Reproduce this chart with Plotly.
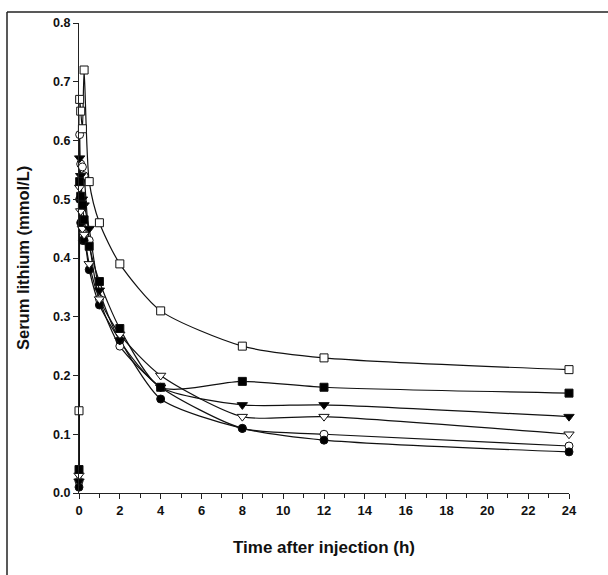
import plotly.graph_objects as go

time_h = [0, 0.033, 0.083, 0.167, 0.25, 0.5, 1, 2, 4, 8, 12, 24]

open_square = [0.14, 0.67, 0.65, 0.62, 0.72, 0.53, 0.46, 0.39, 0.31, 0.25, 0.23, 0.21]
filled_square = [0.04, 0.53, 0.505, 0.49, 0.465, 0.42, 0.36, 0.28, 0.18, 0.19, 0.18, 0.17]
filled_tri = [0.02, 0.57, 0.54, 0.50, 0.49, 0.45, 0.345, 0.26, 0.18, 0.15, 0.15, 0.13]
open_tri = [0.03, 0.52, 0.48, 0.45, 0.44, 0.39, 0.33, 0.27, 0.20, 0.13, 0.13, 0.10]
open_circle = [0.02, 0.61, 0.56, 0.555, 0.54, 0.43, 0.33, 0.25, 0.18, 0.11, 0.10, 0.08]
filled_circle = [0.01, 0.50, 0.46, 0.43, 0.43, 0.38, 0.32, 0.26, 0.16, 0.11, 0.09, 0.07]

x_ticks = list(range(0, 25, 2))
y_ticks = [0, 0.1, 0.2, 0.3, 0.4, 0.5, 0.6, 0.7, 0.8]

series = [
    ("open circle", open_circle, "circle", "white", 8),
    ("filled circle", filled_circle, "circle", "black", 8),
    ("open triangle", open_tri, "triangle-down", "white", 9),
    ("filled triangle", filled_tri, "triangle-down", "black", 9),
    ("filled square", filled_square, "square", "black", 8),
    ("open square", open_square, "square", "white", 8),
]

fig = go.Figure()
for name, vals, sym, fill, sz in series:
    fig.add_trace(go.Scatter(
        x=time_h, y=vals, name=name, mode="lines",
        line=dict(color="#111", width=1.2, shape="spline", smoothing=0.7),
        cliponaxis=False, showlegend=False, hoverinfo="skip"))
for name, vals, sym, fill, sz in series:
    fig.add_trace(go.Scatter(
        x=time_h, y=vals, name=name, mode="markers",
        marker=dict(symbol=sym, size=sz, color=fill, line=dict(color="#111", width=1)),
        cliponaxis=False, showlegend=False))

W, H = 608, 575
L, T = 79, 23
PW, PH = 490, 470

frame_left = (7 - L) / PW
frame_top = 1 + (T - 12) / PH

font_family = "Liberation Sans, Arial, sans-serif"
fig.update_layout(
    width=W, height=H,
    margin=dict(l=L, r=W - L - PW, t=T, b=H - T - PH, autoexpand=False),
    paper_bgcolor="white", plot_bgcolor="white",
    font=dict(family=font_family, color="#111"),
    xaxis=dict(
        range=[0, 24], tickmode="array", tickvals=x_ticks,
        ticks="outside", ticklen=5, tickcolor="#222", tickwidth=1,
        minor=dict(dtick=1, ticks="outside", ticklen=4, tickcolor="#222"),
        showline=True, linecolor="#222", linewidth=1.2,
        showgrid=False, zeroline=False, automargin=False,
        tickfont=dict(size=13, weight="bold"),
    ),
    yaxis=dict(
        range=[0, 0.8], tickmode="array", tickvals=y_ticks,
        tickformat=".1f",
        ticks="outside", ticklen=5, tickcolor="#222", tickwidth=1,
        showline=True, linecolor="#222", linewidth=1.2,
        showgrid=False, zeroline=False, automargin=False,
        tickfont=dict(size=12.5, weight="bold"),
    ),
    annotations=[
        dict(text="Time after injection (h)", xref="paper", yref="paper",
             x=0.5, y=-54 / PH, xanchor="center", yanchor="middle",
             showarrow=False, font=dict(size=17, weight="bold")),
        dict(text="Serum lithium (mmol/L)", xref="paper", yref="paper",
             x=(23 - L) / PW, y=0.5, xanchor="center", yanchor="middle",
             textangle=-90, showarrow=False, font=dict(size=16.5, weight="bold")),
    ],
    shapes=[
        dict(type="line", xref="paper", yref="paper",
             x0=frame_left, x1=(W - L) / PW, y0=frame_top, y1=frame_top,
             line=dict(color="#222", width=1.5), layer="below"),
        dict(type="line", xref="paper", yref="paper",
             x0=frame_left, x1=frame_left, y0=frame_top, y1=-(H - T - PH) / PH,
             line=dict(color="#222", width=1.5), layer="below"),
    ],
)

fig.write_html(
    "out.html",
    config={"displayModeBar": False},
    post_script="document.body.style.margin='0';document.body.style.overflow='hidden';",
)
